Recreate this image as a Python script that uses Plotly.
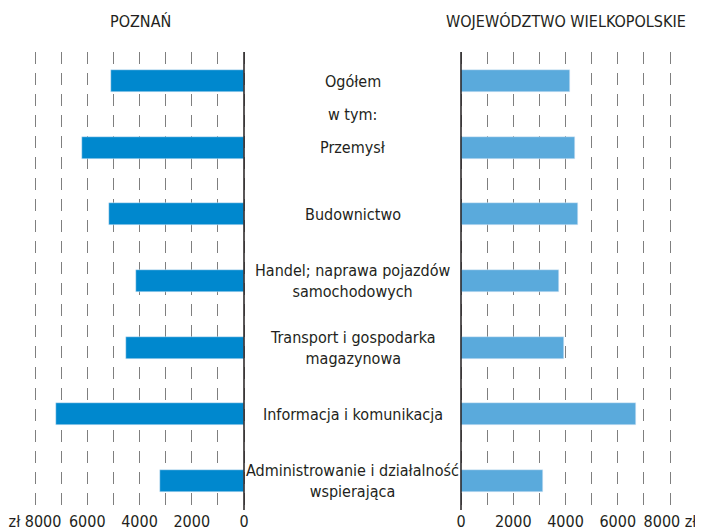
import plotly.graph_objects as go

categories = [
    "Ogółem",
    "Przemysł",
    "Budownictwo",
    "Handel; naprawa pojazdów<br>samochodowych",
    "Transport i gospodarka<br>magazynowa",
    "Informacja i komunikacja",
    "Administrowanie i działalność<br>wspierająca",
]
poznan = [5100, 6200, 5170, 4140, 4520, 7200, 3220]
wielkopolska = [4180, 4370, 4480, 3760, 3950, 6700, 3140]
subheader = "w tym:"
title_left = "POZNAŃ"
title_right = "WOJEWÓDZTWO WIELKOPOLSKIE"
grid_vals = [0, 1000, 2000, 3000, 4000, 5000, 6000, 7000, 8000]
left_ticktext = ["0", "", "2000", "", "4000", "", "6000", "", "zł 8000"]
right_ticktext = ["0", "", "2000", "", "4000", "", "6000", "", "8000 zł"]

OFF = 8  # page body margin
W, H = 703 - OFF, 532 - OFF
FONT = "DejaVu Sans Condensed, Roboto Condensed, Liberation Sans Narrow, Roboto, sans-serif"
TXT = "#231f20"
ypos = list(range(len(categories)))


def px(x):
    return (x - OFF) / W


def py(y):
    return 1 - (y - OFF) / H


fig = go.Figure()
fig.add_trace(go.Bar(y=ypos, x=poznan, orientation="h", marker_color="#0088ce",
                     width=0.33, xaxis="x", yaxis="y", showlegend=False, hoverinfo="x"))
fig.add_trace(go.Bar(y=ypos, x=wielkopolska, orientation="h", marker_color="#5aaadc",
                     width=0.33, xaxis="x2", yaxis="y2", showlegend=False, hoverinfo="x"))

top_px, bot_px = 52, 510
ydom = [py(bot_px), py(top_px)]
pitch = 400 / 6
yr = [6 + (bot_px - 481) / pitch, -(81 - top_px) / pitch]

scale = 209 / 8000
pad = 3
padv = pad / scale


def xaxis(dom, rng, ticktext):
    return dict(domain=dom, range=rng, tickvals=grid_vals, ticktext=ticktext,
                showgrid=True, gridcolor="#7f7f7f", gridwidth=1.3, griddash="12px,9px",
                zeroline=False, showline=False, ticks="", automargin=False,
                ticklabeloverflow="allow", tickangle=0,
                tickfont=dict(family=FONT, size=16, color=TXT), fixedrange=True)


fig.update_layout(
    width=W, height=H,
    margin=dict(l=0, r=0, t=0, b=0),
    paper_bgcolor="white", plot_bgcolor="white",
    xaxis=xaxis([px(35 - pad), px(244 + pad)], [8000 + padv, -padv], left_ticktext),
    xaxis2=xaxis([px(461 - pad), px(670 + pad)], [-padv, 8000 + padv], right_ticktext),
    yaxis=dict(domain=ydom, range=yr, showticklabels=False, showgrid=False,
               zeroline=False, showline=False, anchor="x"),
    yaxis2=dict(domain=ydom, range=yr, showticklabels=False, showgrid=False,
                zeroline=False, showline=False, anchor="x2"),
    bargap=0,
)

for xr in ("x", "x2"):
    fig.add_shape(type="line", xref=xr, yref="paper", x0=0, x1=0, y0=ydom[0], y1=ydom[1],
                  line=dict(color="#231f20", width=1.5), layer="above")

for i, c in enumerate(categories):
    fig.add_annotation(x=px(352.5), xref="paper", y=i, yref="y", text=c, showarrow=False,
                       xanchor="center", yanchor="middle", align="center",
                       font=dict(family=FONT, size=16, color=TXT))
fig.add_annotation(x=px(352.5), xref="paper", y=0.5, yref="y", text=subheader, showarrow=False,
                   xanchor="center", yanchor="middle",
                   font=dict(family=FONT, size=16, color=TXT))

fig.add_annotation(x=px(140), xref="paper", y=py(21), yref="paper", text=title_left,
                   showarrow=False, xanchor="center", yanchor="middle",
                   font=dict(family=FONT, size=16, color=TXT))
fig.add_annotation(x=px(566), xref="paper", y=py(21), yref="paper", text=title_right,
                   showarrow=False, xanchor="center", yanchor="middle",
                   font=dict(family=FONT, size=16, color=TXT))

fig.write_html("out.html")
